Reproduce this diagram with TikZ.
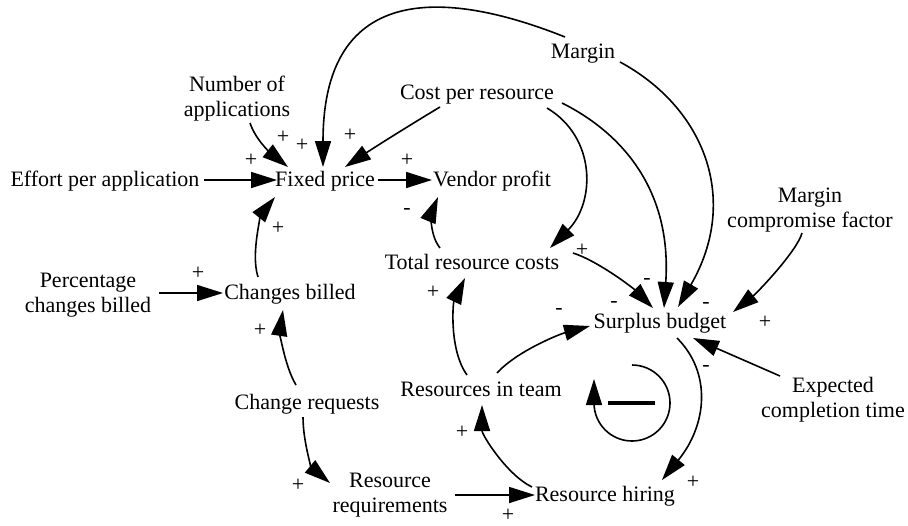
\documentclass[tikz,border=0pt]{standalone}
\usepackage{fontspec}
\setmainfont{Liberation Serif}
\newfontfamily\diagfont{Liberation Serif}
\usetikzlibrary{arrows.meta,calc}

\begin{document}
\begin{tikzpicture}[x=0.5pt,y=-0.5pt,
  var/.style={font=\diagfont\fontsize{11}{12.5}\selectfont, inner sep=0pt, text height=8.2pt, text depth=2.2pt},
  var2/.style={font=\diagfont\fontsize{11}{12.5}\selectfont, inner sep=0pt, align=center},
  sign/.style={font=\diagfont\fontsize{11}{12}\selectfont, inner sep=0pt},
  link/.style={line width=0.8pt, -{Triangle[length=13pt,width=8pt]}},
]
\useasboundingbox (0,0) rectangle (908,525);

% variables
\node[var] (eff) at (105,180) {Effort per application};
\node[var] (fixed) at (325,180) {Fixed price};
\node[var] (vendor) at (492,180) {Vendor profit};
\node[var2] (numapp) at (237,99) {Number of\\applications};
\node[var] (cost) at (477,93) {Cost per resource};
\node[var] (margin) at (583,52) {Margin};
\node[var2] (mcf) at (810,210) {Margin\\compromise factor};
\node[var] (total) at (472,263) {Total resource costs};
\node[var] (surplus) at (660,322) {Surplus budget};
\node[var2] (expected) at (833,400) {Expected\\completion time};
\node[var2] (pcb) at (88,295) {Percentage\\changes billed};
\node[var] (billed) at (290,293) {Changes billed};
\node[var] (creq) at (307,403) {Change requests};
\node[var2] (rreq) at (390,495) {Resource\\requirements};
\node[var] (rteam) at (481,390) {Resources in team};
\node[var] (hiring) at (605,495) {Resource hiring};
\coordinate (loop) at (632,403);

% causal links
\draw[link] ($(eff)+(99,0)$) -- ($(fixed)+(-48,0)$);
\draw[link] ($(fixed)+(53,0)$) -- ($(vendor)+(-60,0)$);
\draw[link] ($(numapp)+(13,24)$) .. controls +(6,18) and +(-15,-12) .. ($(fixed)+(-37,-13)$);
\draw[link] ($(margin)+(-18,-15)$) .. controls +(-100,-40) and +(0,-197) .. ($(fixed)+(-2,-13)$);
\draw[link] ($(cost)+(-37,14)$) .. controls +(-30,18) and +(30,-20) .. ($(fixed)+(20,-13)$);
\draw[link] ($(billed)+(-32,-16)$) .. controls +(-8,-25) and +(-12,15) .. ($(fixed)+(-50,17)$);
\draw[link] ($(total)+(-32,-15)$) .. controls +(-12,-15) and +(-5,12) .. ($(vendor)+(-54,17)$);
\draw[link] ($(cost)+(70,15)$) .. controls +(50,30) and +(45,-45) .. ($(total)+(78,-15)$);
\draw[link] ($(cost)+(85,10)$) .. controls +(60,30) and +(8,-118) .. ($(surplus)+(4,-14)$);
\draw[link] ($(margin)+(37,10)$) .. controls +(85,46) and +(62,-107) .. ($(surplus)+(18,-15)$);
\draw[link] ($(mcf)+(-8,23)$) .. controls +(-5,18) and +(25,-20) .. ($(surplus)+(73,-10)$);
\draw[link] ($(total)+(101,-10)$) .. controls +(25,8) and +(-20,-20) .. ($(surplus)+(-7,-14)$);
\draw[link] ($(rteam)+(16,-17)$) .. controls +(20,-22) and +(-30,8) .. ($(surplus)+(-70,4)$);
\draw[link] ($(rteam)+(-14,-15)$) .. controls +(-18,-25) and +(-12,25) .. ($(total)+(-7,15)$);
\draw[link] ($(expected)+(-53,-24)$) -- ($(surplus)+(33,16)$);
\draw[link] ($(surplus)+(17,16)$) .. controls +(35,35) and +(45,-55) .. ($(hiring)+(57,-15)$);
\draw[link] ($(hiring)+(-73,-8)$) .. controls +(-25,-12) and +(0,30) .. ($(rteam)+(1,15)$);
\draw[link] ($(pcb)+(71,-2)$) -- ($(billed)+(-67,0)$);
\draw[link] ($(creq)+(-11,-18)$) .. controls +(-12,-20) and +(-3,20) .. ($(billed)+(-7,17)$);
\draw[link] ($(creq)+(-4,14)$) .. controls +(0,25) and +(-18,-15) .. ($(rreq)+(-60,-12)$);
\draw[link] ($(rreq)+(65,0)$) -- ($(hiring)+(-70,0)$);

% link polarities
\node[sign] (p1) at (251,160) {+};
\node[sign] (p2) at (283,137) {+};
\node[sign] (p3) at (302,145) {+};
\node[sign] (p4) at (350,135) {+};
\node[sign] (p5) at (407,160) {+};
\node[sign] (p6) at (407,211) {-};
\node[sign] (p7) at (278,228) {+};
\node[sign] (p8) at (198,273) {+};
\node[sign] (p9) at (260,330) {+};
\node[sign] (p10) at (298,485) {+};
\node[sign] (p11) at (433,292) {+};
\node[sign] (p12) at (582,250) {+};
\node[sign] (p13) at (647,281) {-};
\node[sign] (p14) at (614,304) {-};
\node[sign] (p15) at (559,311) {-};
\node[sign] (p16) at (706,305) {-};
\node[sign] (p17) at (765,322) {+};
\node[sign] (p18) at (706,368) {-};
\node[sign] (p19) at (693,482) {+};
\node[sign] (p20) at (462,432) {+};
\node[sign] (p21) at (508,515) {+};

% balancing loop marker
\draw[line width=0.8pt, -{Triangle[length=13pt,width=8pt]}]
  ($(loop)+(0,-38)$) arc[start angle=-90, end angle=180, radius=38] -- ++(0,-24);
\draw[line width=2pt] ($(loop)+(-24,0)$) -- ($(loop)+(23,0)$);
\end{tikzpicture}
\end{document}
